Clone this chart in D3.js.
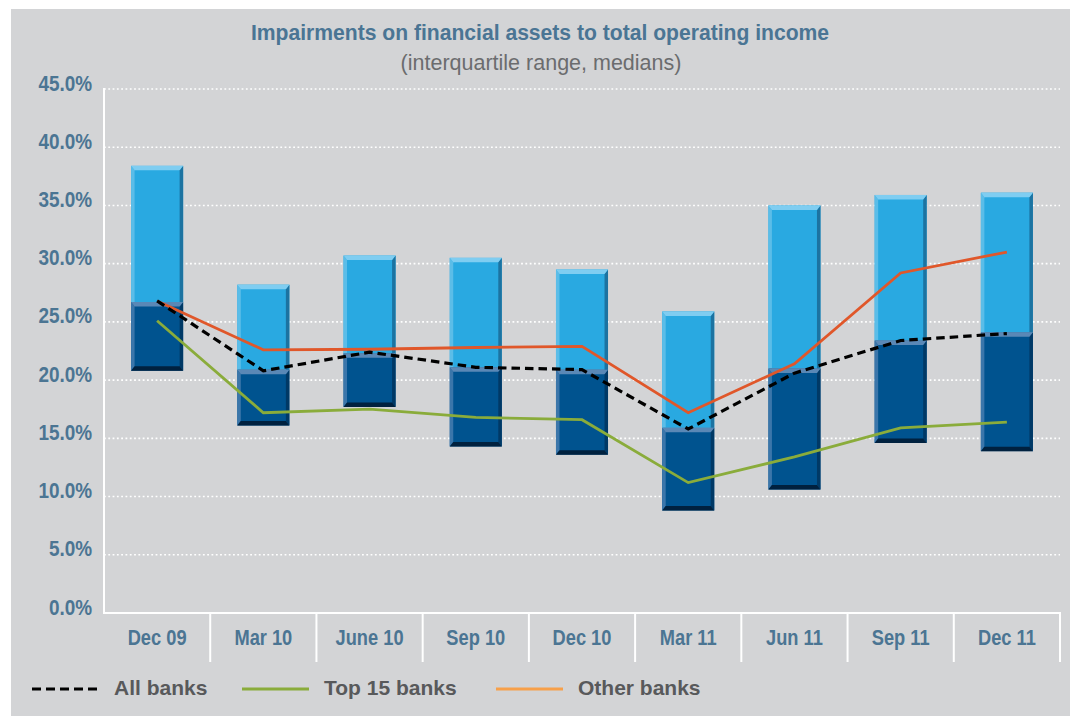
<!DOCTYPE html>
<html>
<head>
<meta charset="utf-8">
<script src="https://cdn.jsdelivr.net/npm/d3@7"></script>
<style>
  html, body { margin: 0; padding: 0; background: #ffffff; }
  svg { display: block; }
</style>
</head>
<body>
<svg id="chart" width="1077" height="716"></svg>
<script>
// ---- Data ----
const categories = ["Dec 09", "Mar 10", "June 10", "Sep 10", "Dec 10", "Mar 11", "Jun 11", "Sep 11", "Dec 11"];
const lowerQuartile = [20.8, 16.1, 17.7, 14.3, 13.6, 8.8, 10.6, 14.6, 13.9];
const medianValue   = [26.7, 20.9, 22.3, 21.1, 20.9, 15.9, 21.0, 23.4, 24.1];
const upperQuartile = [38.4, 28.2, 30.7, 30.5, 29.5, 25.9, 35.0, 35.9, 36.1];
const allBanks   = [26.8, 20.8, 22.4, 21.1, 20.9, 15.8, 20.6, 23.4, 24.0];
const top15Banks = [25.1, 17.2, 17.5, 16.8, 16.6, 11.2, 13.4, 15.9, 16.4];
const otherBanks = [26.8, 22.6, 22.65, 22.8, 22.9, 17.2, 21.4, 29.2, 31.0];
const yTicks = [0, 5, 10, 15, 20, 25, 30, 35, 40, 45];
const legendLabels = ["All banks", "Top 15 banks", "Other banks"];
const titleText = "Impairments on financial assets to total operating income";
const subtitleText = "(interquartile range, medians)";

// ---- Layout ----
const svg = d3.select("#chart");
const plotL = 104, plotR = 1060, plotT = 89, plotB = 613;
const axisColor = "#4b7593";
const FONT = "'Liberation Sans', Arial, sans-serif";

svg.append("rect").attr("x", 11).attr("y", 9).attr("width", 1059).attr("height", 707).attr("fill", "#d3d4d6");

const x = d3.scaleBand().domain(categories).range([plotL, plotR]).paddingInner(0).paddingOuter(0);
const y = d3.scaleLinear().domain([0, 45]).range([plotB, plotT]);

// Title
function scaledText(g, tx, ty, txt, sx, opts) {
  const t = g.append("text")
    .attr("transform", `translate(${tx},${ty}) scale(${sx},1)`)
    .attr("text-anchor", opts.anchor || "start")
    .attr("font-family", FONT)
    .attr("font-size", opts.size)
    .attr("font-weight", opts.weight || "normal")
    .attr("fill", opts.fill)
    .text(txt);
  return t;
}
scaledText(svg, 540, 40, titleText, 0.96, {anchor: "middle", size: 22, weight: "bold", fill: "#4a7594"});
scaledText(svg, 541, 70, subtitleText, 1.0, {anchor: "middle", size: 21.5, fill: "#6b6c6e"});

// Gridlines (dotted white)
svg.append("g").selectAll("line").data(yTicks.filter(d => d > 0)).join("line")
  .attr("x1", plotL).attr("x2", plotR)
  .attr("y1", d => y(d)).attr("y2", d => y(d))
  .attr("stroke", "#ffffff").attr("stroke-width", 1.6)
  .attr("stroke-dasharray", "1.8,2.5");

// Y axis labels
const sxLab = 0.86;
const yAxis = svg.append("g").attr("transform", `translate(${plotL},0)`)
  .call(d3.axisLeft(y).tickValues(yTicks).tickSize(0).tickFormat(d => d.toFixed(1) + "%"));
yAxis.select(".domain").remove();
yAxis.selectAll("text")
  .attr("x", -12 / sxLab).attr("dy", "0.05em")
  .attr("transform", `scale(${sxLab},1)`)
  .attr("font-family", FONT).attr("font-size", 22).attr("font-weight", "bold")
  .attr("fill", axisColor);

// Bars (floating interquartile boxes with bevel)
const barW = x.bandwidth() * 0.49;
const bev = 3.5;
function bevelBox(g, x0, x1, y0, y1, c, bt, bb) {
  g.append("rect").attr("x", x0).attr("y", y0).attr("width", x1 - x0).attr("height", y1 - y0).attr("fill", c.face);
  g.append("polygon").attr("points", [[x0, y0], [x0 + bev, y0 + bt], [x0 + bev, y1 - bb], [x0, y1]].join(" ")).attr("fill", c.left);
  g.append("polygon").attr("points", [[x1, y0], [x1, y1], [x1 - bev, y1 - bb], [x1 - bev, y0 + bt]].join(" ")).attr("fill", c.right);
  g.append("polygon").attr("points", [[x0, y0], [x1, y0], [x1 - bev, y0 + bt], [x0 + bev, y0 + bt]].join(" ")).attr("fill", c.top);
  if (bb > 0) {
    g.append("polygon").attr("points", [[x0, y1], [x1, y1], [x1 - bev, y1 - bb], [x0 + bev, y1 - bb]].join(" ")).attr("fill", c.bottom);
  }
}
const lightC = {face: "#29a9e1", top: "#7fcdf1", left: "#5bbde8", right: "#1c73a1", bottom: "#1c73a1"};
const darkC  = {face: "#00538f", top: "#5a88b6", left: "#3b76aa", right: "#003966", bottom: "#00213f"};
const barsG = svg.append("g");
categories.forEach((c, i) => {
  const cx = x(c) + x.bandwidth() / 2;
  const x0 = cx - barW / 2, x1 = cx + barW / 2;
  bevelBox(barsG, x0, x1, y(upperQuartile[i]), y(medianValue[i]), lightC, 4.5, 0);
  bevelBox(barsG, x0, x1, y(medianValue[i]), y(lowerQuartile[i]), darkC, 4.5, 4.5);
});

// Axis lines and dividers
svg.append("line").attr("x1", plotL).attr("x2", plotL).attr("y1", plotT - 1).attr("y2", plotB)
  .attr("stroke", "#ffffff").attr("stroke-width", 2);
svg.append("line").attr("x1", plotL - 1).attr("x2", plotR + 1).attr("y1", plotB).attr("y2", plotB)
  .attr("stroke", "#ffffff").attr("stroke-width", 2);
svg.append("g").selectAll("line").data(categories).join("line")
  .attr("x1", d => x(d) + x.bandwidth()).attr("x2", d => x(d) + x.bandwidth())
  .attr("y1", plotB).attr("y2", plotB + 49)
  .attr("stroke", "#ffffff").attr("stroke-width", 2);

// X axis labels
const xAxis = svg.append("g").attr("transform", `translate(0,${plotB})`)
  .call(d3.axisBottom(x).tickSize(0));
xAxis.select(".domain").remove();
xAxis.selectAll("text")
  .attr("y", 32).attr("dy", 0)
  .attr("transform", `scale(${0.83},1)`)
  .attr("font-family", FONT).attr("font-size", 22).attr("font-weight", "bold")
  .attr("fill", axisColor);
// keep labels centered when scaled: shift tick groups accordingly
xAxis.selectAll(".tick").each(function(d) {
  const cx = x(d) + x.bandwidth() / 2;
  d3.select(this).attr("transform", `translate(${cx},0)`);
});

// Lines
const lineGen = d3.line().x((d, i) => x(categories[i]) + x.bandwidth() / 2).y(d => y(d));
svg.append("path").datum(top15Banks).attr("d", lineGen)
  .attr("fill", "none").attr("stroke", "#8aac3b").attr("stroke-width", 2.8).attr("stroke-linejoin", "miter");
svg.append("path").datum(otherBanks).attr("d", lineGen)
  .attr("fill", "none").attr("stroke", "#e0572a").attr("stroke-width", 2.8);
svg.append("path").datum(allBanks).attr("d", lineGen)
  .attr("fill", "none").attr("stroke", "#000000").attr("stroke-width", 3.2).attr("stroke-dasharray", "8.5,5");

// Legend
const legend = svg.append("g");
const legendItems = [
  {label: legendLabels[0], x1: 32, x2: 99, tx: 114, color: "#000000", dash: "9,5"},
  {label: legendLabels[1], x1: 242, x2: 309, tx: 324, color: "#8aac3b", dash: null},
  {label: legendLabels[2], x1: 496, x2: 563, tx: 578, color: "#f7a04a", dash: null}
];
legendItems.forEach(it => {
  const ln = legend.append("line").attr("x1", it.x1).attr("x2", it.x2).attr("y1", 689).attr("y2", 689)
    .attr("stroke", it.color).attr("stroke-width", it.dash ? 3 : 2.8);
  if (it.dash) ln.attr("stroke-dasharray", it.dash);
  legend.append("text").attr("x", it.tx).attr("y", 695)
    .attr("font-family", FONT).attr("font-size", 21).attr("font-weight", "bold")
    .attr("fill", "#58595b").text(it.label);
});
</script>
</body>
</html>
